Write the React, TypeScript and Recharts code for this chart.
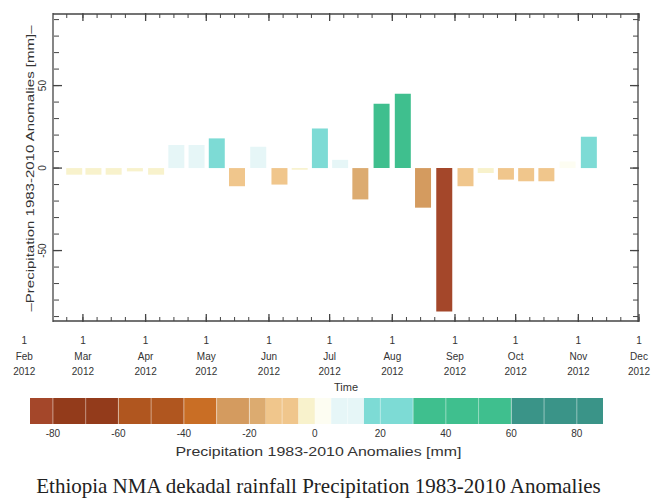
import React from "react";
import {
  ComposedChart,
  Bar,
  Cell,
  XAxis,
  YAxis,
  Label,
  ReferenceArea,
  ReferenceLine,
} from "recharts";

// ---- data ----
const monthNames = ["Feb", "Mar", "Apr", "May", "Jun", "Jul", "Aug", "Sep", "Oct", "Nov", "Dec"];
const year = 2012;

const dekads = [
  "Feb-3",
  "Mar-1", "Mar-2", "Mar-3",
  "Apr-1", "Apr-2", "Apr-3",
  "May-1", "May-2", "May-3",
  "Jun-1", "Jun-2", "Jun-3",
  "Jul-1", "Jul-2", "Jul-3",
  "Aug-1", "Aug-2", "Aug-3",
  "Sep-1", "Sep-2", "Sep-3",
  "Oct-1", "Oct-2", "Oct-3",
  "Nov-1", "Nov-2", "Nov-3",
];
const anomalies = [
  -4,
  -4, -4, -2,
  -4, 14, 14,
  18, -11, 13,
  -10, -1, 24,
  5, -19, 39,
  45, -24, -87,
  -11, -3, -7,
  -8, -8, 4,
  19, 0, 0,
];

// colour classes of the anomaly scale
const levels = [-87, -80, -60, -40, -30, -20, -15, -5, 0, 5, 15, 30, 60, 88];
const levelColors = [
  "#a4472a", "#933b1b", "#b0561f", "#c96e25", "#d49b5f", "#dcab70",
  "#f0c68c", "#f8f2cc", "#fdfdf2", "#e6f6f7", "#7ddbd5", "#3fbf8e", "#3a9488",
];
const scaleTicks = [-80, -60, -40, -20, 0, 20, 40, 60, 80];
const yTicks = [-50, 0, 50];

// ---- helpers ----
const DAY = 86400000;
const t0 = Date.UTC(year, 1, 1);
const monthStart = (m: number) => (Date.UTC(year, m + 1, 1) - t0) / DAY; // m index into monthNames

const dekadMid = (label: string) => {
  const [mon, k] = label.split("-");
  const m = monthNames.indexOf(mon);
  const start = monthStart(m) + (Number(k) - 1) * 10;
  const end = k === "3" ? monthStart(m + 1) : start + 10;
  return (start + end) / 2;
};

const colorFor = (v: number) => {
  for (let i = 0; i < levelColors.length; i++) {
    if (v < levels[i + 1]) return levelColors[i];
  }
  return levelColors[levelColors.length - 1];
};

const data = dekads.map((d, i) => ({ dekad: d, day: dekadMid(d), value: anomalies[i] }));

const monthTicks = monthNames.map((_, i) => monthStart(i));
const X_DOMAIN: [number, number] = [14.2, monthStart(10)];
const Y_DOMAIN: [number, number] = [-93.3, 94];

const inX = (d: number) => d >= X_DOMAIN[0] - 0.01 && d <= X_DOMAIN[1] + 0.01;
const majorX = monthTicks.filter(inX);
const minorX: number[] = [];
monthTicks.forEach((s) => [0, 7, 14, 21].forEach((o) => minorX.push(s + o)));
const minorXIn = minorX.filter(inX);
const minorY: number[] = [];
for (let v = -90; v <= 90; v += 10) minorY.push(v);

const FONT = "'Liberation Sans', Arial, sans-serif";
const BOX = "#444";

const NoLabel = () => null;

const MonthTick = (props: any) => {
  const { x, y, payload } = props;
  const i = monthTicks.indexOf(payload.value);
  return (
    <text x={x} y={y} textAnchor="middle" fontSize={10} fill="#333" fontFamily={FONT}>
      <tspan x={x} dy={22}>1</tspan>
      <tspan x={x} dy={16}>{monthNames[i]}</tspan>
      <tspan x={x} dy={15}>{year}</tspan>
    </text>
  );
};

const YTick = (props: any) => {
  const { x, y, payload } = props;
  return (
    <text
      x={x}
      y={y}
      transform={`rotate(-90 ${x} ${y})`}
      textAnchor="middle"
      dominantBaseline="central"
      fontSize={10}
      fill="#333"
      fontFamily={FONT}
    >
      {payload.value}
    </text>
  );
};

const YTitle = (props: any) => {
  const vb = props.viewBox;
  const cx = vb.x + 30;
  const cy = vb.y + vb.height / 2 + 1;
  return (
    <text
      x={cx}
      y={cy}
      transform={`rotate(-90 ${cx} ${cy})`}
      textAnchor="middle"
      dominantBaseline="central"
      fontSize={11}
      fill="#333"
      fontFamily={FONT}
      textLength={286}
      lengthAdjust="spacingAndGlyphs"
    >
      –Precipitation 1983-2010 Anomalies [mm]–
    </text>
  );
};

const TimeTitle = (props: any) => {
  const vb = props.viewBox;
  return (
    <text x={vb.x + vb.width / 2} y={vb.y + 69} textAnchor="middle" fontSize={11} fill="#333" fontFamily={FONT}>
      Time
    </text>
  );
};

const ScaleTitle = (props: any) => {
  const vb = props.viewBox;
  return (
    <text
      x={vb.x + vb.width / 2 + 2}
      y={vb.y + 32}
      textAnchor="middle"
      fontSize={12}
      fill="#333"
      fontFamily={FONT}
      textLength={286}
      lengthAdjust="spacingAndGlyphs"
    >
      Precipitation 1983-2010 Anomalies [mm]
    </text>
  );
};

// shared props of the thin tick-only axes drawn on the box edges
const xEdge = {
  dataKey: "day",
  type: "number" as const,
  domain: X_DOMAIN,
  allowDataOverflow: true,
  interval: 0 as const,
  mirror: true,
  height: 1,
  tick: NoLabel,
};
const yEdge = {
  dataKey: "value",
  type: "number" as const,
  domain: Y_DOMAIN,
  allowDataOverflow: true,
  interval: 0 as const,
  mirror: true,
  width: 1,
  tick: NoLabel,
};

export default function App() {
  return (
    <div
      style={{
        position: "absolute",
        left: 0,
        top: 0,
        width: 651,
        height: 498,
        background: "#fff",
        overflow: "hidden",
      }}
    >
      <ComposedChart width={651} height={400} data={data} margin={{ top: 13, right: 12, left: 0, bottom: 8 }}>
        {/* bottom edge: minor ticks + box line (bars live on this one) */}
        <XAxis
          xAxisId="main"
          {...xEdge}
          ticks={minorXIn}
          tickSize={4}
          tickLine={{ stroke: BOX }}
          axisLine={{ stroke: BOX, strokeWidth: 1.3 }}
        />
        <XAxis
          xAxisId="bMaj"
          {...xEdge}
          ticks={majorX}
          tickSize={8}
          tickLine={{ stroke: BOX, strokeWidth: 1.3 }}
          axisLine={false}
        />
        <XAxis
          xAxisId="lab"
          dataKey="day"
          type="number"
          domain={X_DOMAIN}
          allowDataOverflow
          ticks={monthTicks}
          interval={0}
          height={70}
          tickSize={0}
          tickMargin={0}
          tickLine={false}
          axisLine={false}
          tick={<MonthTick />}
        >
          <Label content={<TimeTitle />} />
        </XAxis>
        {/* top edge */}
        <XAxis
          xAxisId="top"
          orientation="top"
          {...xEdge}
          ticks={minorXIn}
          tickSize={4}
          tickLine={{ stroke: BOX }}
          axisLine={{ stroke: BOX, strokeWidth: 1.3 }}
        />
        <XAxis
          xAxisId="tMaj"
          orientation="top"
          {...xEdge}
          ticks={majorX}
          tickSize={8}
          tickLine={{ stroke: BOX, strokeWidth: 1.3 }}
          axisLine={false}
        />

        <YAxis
          yAxisId="main"
          dataKey="value"
          type="number"
          domain={Y_DOMAIN}
          allowDataOverflow
          ticks={yTicks}
          interval={0}
          width={53}
          tickSize={0}
          tickMargin={10}
          tickLine={false}
          axisLine={{ stroke: BOX, strokeWidth: 1.3 }}
          tick={<YTick />}
        >
          <Label content={<YTitle />} />
        </YAxis>
        <YAxis yAxisId="lMin" {...yEdge} ticks={minorY} tickSize={5} tickLine={{ stroke: BOX }} axisLine={false} />
        <YAxis
          yAxisId="lMaj"
          {...yEdge}
          ticks={yTicks}
          tickSize={9}
          tickLine={{ stroke: BOX, strokeWidth: 1.3 }}
          axisLine={false}
        />
        <YAxis
          yAxisId="rMin"
          orientation="right"
          {...yEdge}
          ticks={minorY}
          tickSize={5}
          tickLine={{ stroke: BOX }}
          axisLine={{ stroke: BOX, strokeWidth: 1.3 }}
        />
        <YAxis
          yAxisId="rMaj"
          orientation="right"
          {...yEdge}
          ticks={yTicks}
          tickSize={9}
          tickLine={{ stroke: BOX, strokeWidth: 1.3 }}
          axisLine={false}
        />

        <Bar xAxisId="main" yAxisId="main" dataKey="value" barSize={16} isAnimationActive={false}>
          {data.map((d, i) => (
            <Cell key={i} fill={colorFor(d.value)} />
          ))}
        </Bar>
      </ComposedChart>

      {/* colour scale */}
      <div style={{ position: "absolute", left: 0, top: 390 }}>
        <ComposedChart
          width={651}
          height={80}
          data={scaleTicks.map((v) => ({ v }))}
          margin={{ top: 8, right: 48, left: 30, bottom: 0 }}
        >
          <XAxis
            type="number"
            dataKey="v"
            domain={[levels[0], levels[levels.length - 1]]}
            allowDataOverflow
            ticks={scaleTicks}
            interval={0}
            height={46}
            tickSize={0}
            tickMargin={6}
            tickLine={false}
            axisLine={false}
            tick={{ fontSize: 10, fill: "#333", fontFamily: FONT }}
          >
            <Label content={<ScaleTitle />} />
          </XAxis>
          <YAxis hide type="number" domain={[0, 1]} allowDataOverflow />
          {levelColors.map((c, i) => (
            <ReferenceArea
              key={i}
              x1={levels[i]}
              x2={levels[i + 1]}
              y1={0}
              y2={1}
              fill={c}
              fillOpacity={1}
              stroke="none"
            />
          ))}
          {[-80, -70, -60, -50, -40, -30, -20, -10, 10, 20, 30, 40, 50, 60, 70, 80].map((v) => (
            <ReferenceLine key={v} x={v} stroke="#fff" strokeOpacity={0.45} />
          ))}
        </ComposedChart>
      </div>

      <div
        style={{
          position: "absolute",
          left: 0,
          top: 475,
          width: 637,
          textAlign: "center",
          fontFamily: "'Liberation Serif', 'Times New Roman', serif",
          fontSize: 21,
          color: "#222",
          lineHeight: "22px",
          whiteSpace: "nowrap",
        }}
      >
        Ethiopia NMA dekadal rainfall Precipitation 1983-2010 Anomalies
      </div>
    </div>
  );
}
